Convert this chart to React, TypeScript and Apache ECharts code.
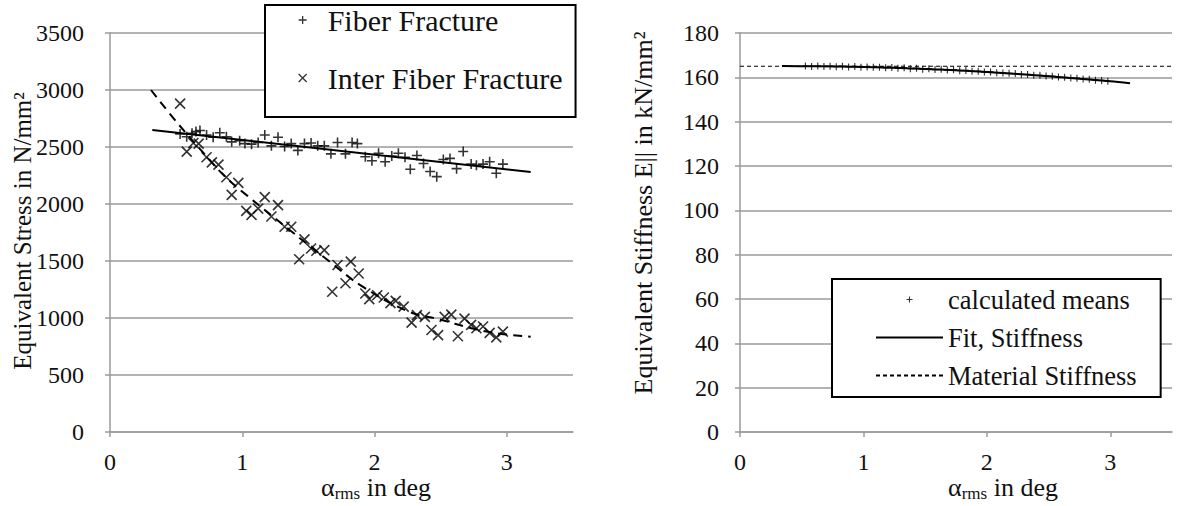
import React, { useEffect, useRef } from "react";
import * as echarts from "echarts";

// ---------- data ----------
const fiberFracture: [number, number][] = [
  [0.53, 2615], [0.58, 2590], [0.62, 2620], [0.65, 2635], [0.68, 2645], [0.73, 2605],
  [0.78, 2585], [0.83, 2625], [0.88, 2590], [0.92, 2545], [0.98, 2555], [1.02, 2530],
  [1.07, 2525], [1.12, 2540], [1.17, 2605], [1.22, 2510], [1.27, 2585], [1.32, 2505],
  [1.37, 2530], [1.42, 2470], [1.47, 2530], [1.52, 2535], [1.57, 2510], [1.62, 2510],
  [1.67, 2440], [1.72, 2540], [1.78, 2440], [1.83, 2540], [1.87, 2530], [1.93, 2415],
  [1.98, 2380], [2.03, 2445], [2.08, 2370], [2.13, 2420], [2.18, 2445], [2.23, 2410],
  [2.27, 2305], [2.32, 2425], [2.37, 2355], [2.42, 2285], [2.47, 2240], [2.52, 2390],
  [2.57, 2400], [2.62, 2310], [2.67, 2460], [2.73, 2350], [2.77, 2340], [2.82, 2350],
  [2.87, 2370], [2.92, 2270], [2.97, 2350],
];

const interFiberFracture: [number, number][] = [
  [0.53, 2880], [0.58, 2460], [0.63, 2535], [0.67, 2530], [0.73, 2410], [0.77, 2365],
  [0.82, 2345], [0.88, 2235], [0.92, 2080], [0.97, 2185], [1.03, 1940], [1.07, 1905],
  [1.12, 1960], [1.17, 2060], [1.22, 1890], [1.27, 1990], [1.32, 1800], [1.37, 1800],
  [1.43, 1515], [1.47, 1690], [1.52, 1610], [1.56, 1590], [1.62, 1595], [1.68, 1230],
  [1.72, 1465], [1.78, 1305], [1.82, 1495], [1.88, 1390], [1.93, 1215], [1.96, 1165],
  [2.02, 1200], [2.07, 1180], [2.12, 1130], [2.16, 1150], [2.22, 1100], [2.28, 960],
  [2.32, 1025], [2.38, 1010], [2.43, 895], [2.48, 850], [2.53, 1010], [2.58, 1030],
  [2.63, 840], [2.68, 995], [2.73, 940], [2.77, 910], [2.82, 925], [2.87, 870],
  [2.92, 830], [2.97, 880],
];

const fiberFit: [number, number][] = [[0.32, 2650], [3.18, 2280]];

const interFiberFit: [number, number][] = [
  [0.31, 3000], [0.51, 2710], [0.72, 2430], [0.87, 2240], [1.03, 2080], [1.36, 1770],
  [1.66, 1495], [1.91, 1275], [2.26, 1055], [2.5, 985], [2.75, 905], [2.95, 862], [3.18, 836],
];

const stiffnessX: number[] = [
  0.53, 0.58, 0.63, 0.68, 0.73, 0.78, 0.83, 0.88, 0.93, 0.98,
  1.03, 1.08, 1.13, 1.18, 1.23, 1.28, 1.33, 1.38, 1.43, 1.48,
  1.53, 1.58, 1.63, 1.68, 1.73, 1.78, 1.83, 1.88, 1.93, 1.98,
  2.03, 2.08, 2.13, 2.18, 2.23, 2.28, 2.33, 2.38, 2.43, 2.48,
  2.53, 2.58, 2.63, 2.68, 2.73, 2.78, 2.83, 2.88, 2.93, 2.98,
];
const stiffnessMeans: number[] = [
  165.1, 164.9, 165.1, 164.9, 165.0, 164.8, 165.0, 164.7, 164.9, 164.6,
  164.7, 164.5, 164.6, 164.3, 164.4, 164.1, 164.3, 163.9, 164.1, 163.7,
  163.9, 163.5, 163.6, 163.3, 163.4, 163.0, 163.1, 162.7, 162.8, 162.4,
  162.4, 162.1, 162.0, 161.8, 161.7, 161.3, 161.3, 160.9, 160.9, 160.6,
  160.5, 160.1, 160.0, 159.7, 159.6, 159.2, 159.1, 158.7, 158.6, 158.2,
];

const stiffnessFitX: number[] = [0.34, 0.6, 1.0, 1.5, 2.0, 2.5, 3.0, 3.16];
const stiffnessFitY: number[] = [165.1, 165.0, 164.7, 163.8, 162.4, 160.5, 158.2, 157.3];

const materialStiffnessX: number[] = [0, 3.5];
const materialStiffnessY: number[] = [165, 165];

const xTicks: number[] = [0, 1, 2, 3];
const stressRange = { min: 0, max: 3500, interval: 500 };
const stiffRange = { min: 0, max: 180, interval: 20 };
const angleRange = { min: 0, max: 3.5 };

const stressLegend = ["Fiber Fracture", "Inter Fiber Fracture"];
const stiffLegend = ["calculated means", "Fit, Stiffness", "Material Stiffness"];

// ---------- styling ----------
const FONT = '"Liberation Serif", "Times New Roman", serif';
const GRID = "#9a9a9a";
const INK = "#111";
const PLUS = "path://M0,5L10,5M5,0L5,10";
const CROSS = "path://M0,0L10,10M10,0L0,10";

const plainNumber = (v: number) => String(v);

function xAxisCfg(gridIndex: number) {
  return {
    gridIndex,
    type: "value",
    min: angleRange.min,
    max: angleRange.max,
    interval: 1,
    axisLine: { show: true, onZero: false, lineStyle: { color: GRID, width: 1.5 } },
    axisTick: { show: true, length: 5, customValues: xTicks, lineStyle: { color: GRID, width: 1.5 } },
    splitLine: { show: false },
    axisLabel: {
      fontSize: 24,
      color: INK,
      fontFamily: FONT,
      margin: 18,
      customValues: xTicks,
      formatter: plainNumber,
    },
  };
}

function yAxisCfg(gridIndex: number, r: { min: number; max: number; interval: number }, margin: number) {
  return {
    gridIndex,
    type: "value",
    min: r.min,
    max: r.max,
    interval: r.interval,
    axisLine: { show: true, lineStyle: { color: GRID, width: 1.5 } },
    axisTick: { show: true, length: 5, lineStyle: { color: GRID, width: 1.5 } },
    splitLine: { show: true, lineStyle: { color: GRID, width: 1.5 } },
    axisLabel: { fontSize: 24, color: INK, fontFamily: FONT, margin, formatter: plainNumber },
  };
}

const xTitleRich = {
  a: { fontSize: 26, fontFamily: FONT, fill: INK, lineHeight: 30 },
  s: { fontSize: 17, fontFamily: FONT, fill: INK, lineHeight: 17, verticalAlign: "bottom" },
};

export default function App() {
  const ref = useRef<HTMLDivElement>(null);

  useEffect(() => {
    if (!ref.current) return;
    const chart = echarts.init(ref.current, undefined, { renderer: "svg" });

    const option: any = {
      animation: false,
      backgroundColor: "#fff",
      grid: [
        { left: 110, top: 33, width: 463, height: 399 },
        { left: 740, top: 33, width: 432, height: 399 },
      ],
      xAxis: [xAxisCfg(0), xAxisCfg(1)],
      yAxis: [yAxisCfg(0, stressRange, 26), yAxisCfg(1, stiffRange, 21)],
      legend: [
        {
          orient: "vertical",
          left: 265,
          top: 5,
          itemWidth: 40,
          itemHeight: 8,
          itemGap: 28,
          padding: [0, 13, 24, 33],
          borderColor: "#000",
          borderWidth: 2,
          borderRadius: 0,
          backgroundColor: "#fff",
          selectedMode: false,
          itemStyle: { borderWidth: 1.3 },
          textStyle: { fontSize: 30, fontFamily: FONT, color: INK },
          data: stressLegend,
        },
        {
          orient: "vertical",
          left: 832,
          top: 279,
          itemWidth: 67,
          itemHeight: 6,
          itemGap: 11,
          padding: [7, 24, 8, 43],
          borderColor: "#000",
          borderWidth: 2,
          borderRadius: 0,
          backgroundColor: "#fff",
          selectedMode: false,
          itemStyle: { borderWidth: 1.1 },
          textStyle: { fontSize: 26.5, fontFamily: FONT, color: INK },
          data: [
            { name: stiffLegend[0] },
            { name: stiffLegend[1], itemStyle: { opacity: 0 } },
            { name: stiffLegend[2], itemStyle: { opacity: 0 } },
          ],
        },
      ],
      series: [
        {
          name: "Fiber Fracture fit",
          type: "line",
          xAxisIndex: 0,
          yAxisIndex: 0,
          data: fiberFit,
          symbol: "none",
          lineStyle: { color: "#000", width: 2 },
          z: 2,
        },
        {
          name: "Inter Fiber Fracture fit",
          type: "line",
          xAxisIndex: 0,
          yAxisIndex: 0,
          data: interFiberFit,
          smooth: 0.4,
          symbol: "none",
          lineStyle: { color: "#000", width: 2, type: [9, 6] },
          z: 2,
        },
        {
          name: stressLegend[0],
          type: "scatter",
          xAxisIndex: 0,
          yAxisIndex: 0,
          data: fiberFracture,
          symbol: PLUS,
          symbolSize: 10,
          itemStyle: { color: "rgba(0,0,0,0)", borderColor: "#000", borderWidth: 1.6 },
          z: 3,
        },
        {
          name: stressLegend[1],
          type: "scatter",
          xAxisIndex: 0,
          yAxisIndex: 0,
          data: interFiberFracture,
          symbol: CROSS,
          symbolSize: 10,
          itemStyle: { color: "rgba(0,0,0,0)", borderColor: "#000", borderWidth: 1.6 },
          z: 3,
        },
        {
          name: stiffLegend[2],
          type: "line",
          xAxisIndex: 1,
          yAxisIndex: 1,
          data: materialStiffnessX.map((x, i) => [x, materialStiffnessY[i]]),
          symbol: "none",
          color: "#000",
          lineStyle: { color: "#000", width: 1.2, type: [4, 3] },
          z: 2,
        },
        {
          name: stiffLegend[1],
          type: "line",
          xAxisIndex: 1,
          yAxisIndex: 1,
          data: stiffnessFitX.map((x, i) => [x, stiffnessFitY[i]]),
          smooth: 0.3,
          symbol: "none",
          color: "#000",
          lineStyle: { color: "#000", width: 2 },
          z: 3,
        },
        {
          name: stiffLegend[0],
          type: "scatter",
          xAxisIndex: 1,
          yAxisIndex: 1,
          data: stiffnessX.map((x, i) => [x, stiffnessMeans[i]]),
          symbol: PLUS,
          symbolSize: [6, 7],
          itemStyle: { color: "rgba(0,0,0,0)", borderColor: "#000", borderWidth: 1.2 },
          z: 4,
        },
      ],
      graphic: [
        {
          type: "text",
          x: 22,
          y: 231,
          rotation: Math.PI / 2,
          style: {
            text: "Equivalent Stress in N/mm²",
            fontSize: 25,
            fontFamily: FONT,
            fill: INK,
            align: "center",
            verticalAlign: "middle",
          },
        },
        {
          type: "text",
          x: 643,
          y: 213,
          rotation: Math.PI / 2,
          style: {
            text: "Equivalent Stiffness E|| in kN/mm²",
            fontSize: 26,
            fontFamily: FONT,
            fill: INK,
            align: "center",
            verticalAlign: "middle",
          },
        },
        {
          type: "text",
          x: 376,
          y: 487,
          style: {
            text: "{a|α}{s|rms}{a| in deg}",
            rich: xTitleRich,
            align: "center",
            verticalAlign: "middle",
          },
        },
        {
          type: "text",
          x: 1003,
          y: 487,
          style: {
            text: "{a|α}{s|rms}{a| in deg}",
            rich: xTitleRich,
            align: "center",
            verticalAlign: "middle",
          },
        },
      ],
    };

    chart.setOption(option);
    return () => chart.dispose();
  }, []);

  return (
    <div
      ref={ref}
      style={{ position: "fixed", left: 0, top: 0, width: 1177, height: 506, background: "#fff" }}
    />
  );
}
